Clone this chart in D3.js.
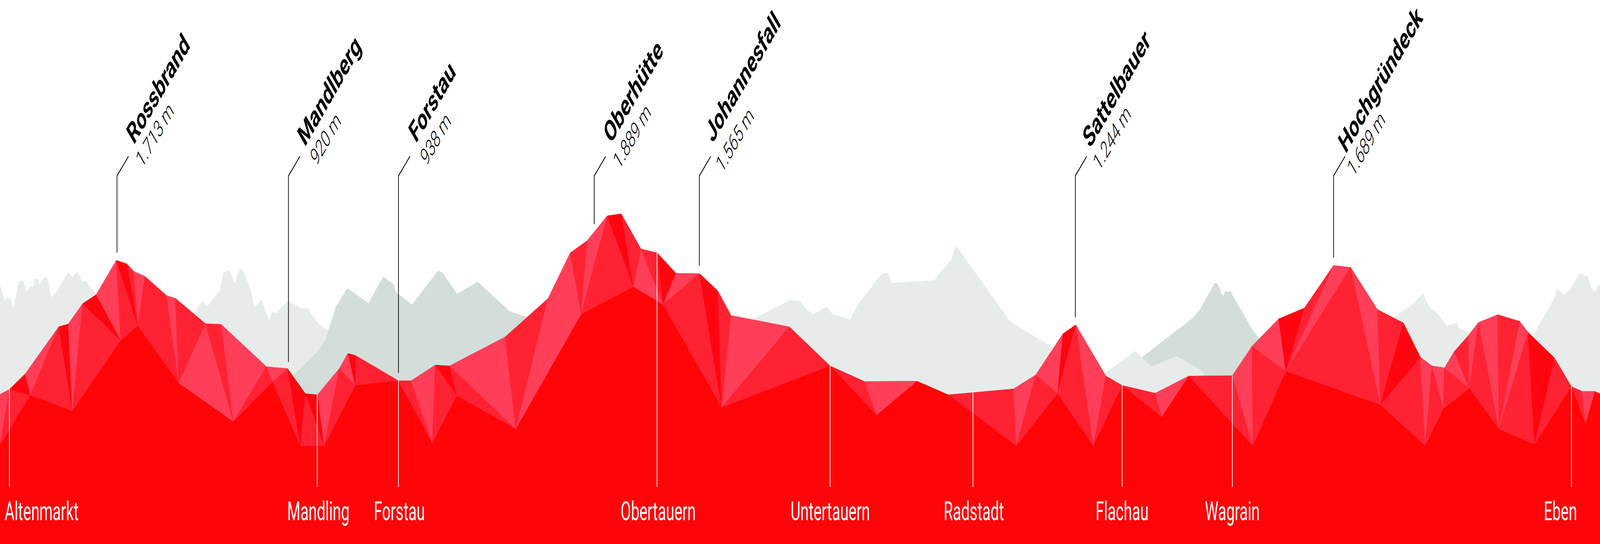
<!DOCTYPE html>
<html lang="de">
<head>
<meta charset="utf-8">
<title>Höhenprofil</title>
<script src="https://cdnjs.cloudflare.com/ajax/libs/d3/7.8.5/d3.min.js"></script>
<style>
html,body{margin:0;padding:0;background:#fff;width:100%;height:100%;overflow:hidden}
#chart,svg{display:block;width:100%;height:100%}
</style>
</head>
<body>
<div id="chart"></div>
<script>
// ---------- DATA (profile units) ----------
const ridgeX = [0,42,111,261,303,367,427,517,564,594,644,740,779,913,983,1184,1278,1357,1411,1508,1546,1582,1770,1827,1934,1998,2245,2435,2534,2609,2699,2761,2849,2921,3004,3109,3190,3249,3508,3689,3842,4076,4216,4504,4603,4724,4781,4915,4987,5134,5283,5477,5564,5682,5797,5927,6003,6122,6237,6313,6364,6420,6462,6525,6571,6656,6754,6791,6909,6984,7031,7088,7111];
const ridgeY = [1009,996,957,836,829,777,754,666,675,694,707,756,763,828,830,938,943,1007,1010,943,904,910,974,974,934,936,862,764,647,616,552,547,637,647,699,700,744,807,836,936,976,975,1010,995,959,854,831,962,986,1006,962,961,886,816,788,679,684,792,826,914,936,941,900,859,825,805,822,850,916,989,1001,1001,1007];
const valleyX = [0,135,321,537,613,794,1037,1211,1335,1441,1579,1921,2030,2292,2583,2815,2947,3207,3896,4517,4700,4859,5163,5568,5715,6135,6334,6415,6530,6662,6820,7047];
const valleyY = [1139,1011,1052,871,834,980,1079,977,1141,1141,986,1134,1012,1098,804,734,779,1043,1062,1141,1007,1141,1067,1141,950,1036,1141,1046,994,1098,1137,1084];
// each facet joins three named corners: r = ridge corner, v = valley corner
const facets = [
"r0 r1 v0","r1 v1 v0","r1 r2 v1","r2 r3 v1","r3 v1 v2","r3 r4 v2","r4 r5 v2","r5 v3 v2","r5 r6 v3","r6 r7 v3",
"r7 v4 v3","r7 r8 v4","r8 r9 v4","r9 r10 v4","r10 r11 v5","r10 v5 v4","r11 r12 v5","r12 r13 v5","r13 v6 v5","r13 r14 v6",
"r14 r15 v6","r15 v7 v6","r15 r16 v7","r16 v8 v7","r16 r17 v8","r17 v9 v8","r17 r18 v9","r18 r19 v9","r19 v10 v9","r19 r20 v10",
"r20 r21 v10","r21 r22 v10","r22 r23 v11","r23 r24 v11","r24 v12 v11","r24 r25 v12","r25 v13 v12","r25 r26 v13","r26 r27 v13","r27 v14 v13",
"r27 r28 v14","r28 r29 v14","r29 r30 v14","r30 v15 v14","r30 r31 v15","r31 r32 v15","r32 v16 v15","r32 r33 v16","r33 r34 v16","r34 r35 v16",
"r35 v17 v16","r35 r36 v17","r36 r37 v17","r37 r38 v17","r38 r39 v17","r39 r40 v18","r40 r41 v18","r42 r43 v19","r43 r44 v19","r44 v20 v19",
"r44 r45 v20","r45 r46 v20","r46 v21 v20","r46 r47 v21","r47 r48 v21","r48 r49 v22","r49 r50 v22","r50 r51 v23","r51 r52 v23","r52 v24 v23",
"r52 r53 v24","r53 r54 v24","r54 r55 v24","r55 r56 v24","r56 v25 v24","r56 r57 v25","r57 r58 v25","r58 r59 v25","r59 v26 v25","r59 r60 v26",
"r60 v27 v26","r60 r61 v27","r61 v28 v27","r61 r62 v28","r62 r63 v28","r63 r64 v28","r64 v29 v28","r64 r65 v29","r65 r66 v29","r66 r67 v29",
"r67 v30 v29","r67 r68 v30","r68 r69 v30","r69 r70 v31","r70 r71 v31"];
// tone of each facet: L light, M medium, D deep
const facetTones = "LMDLMDLMDLMDMLMMLMLMLMLMDMDLMLDMMLMDMLMLLMLMDMLMDLMDMLMMLMLMLDMLMMLMLMLDMLMLMDMLMLMLMLMLMLMDMML";
const backX1 = [0,22,30,48,60,83,104,118,131,148,156,171,174,197,212,227,249,302,324,342,365,382,427,440];
const backY1 = [728,771,763,765,788,720,718,748,733,732,712,716,730,708,713,761,748,697,709,693,719,719,754,800];
const backX2 = [850,899,915,924,976,994,1021,1042,1066,1080,1112,1131,1163,1196,1209,1225,1281,1341,1367,1415,1458,1470];
const backY2 = [815,769,783,782,744,697,690,724,688,691,737,786,767,821,798,801,770,789,789,828,847,900];
const backX3 = [3340,3351,3512,3559,3577,3614,3672,3699,3777,3817,3918,3944,3964,4151,4229,4244,4252,4490,4682,4700];
const backY3 = [830,815,768,771,787,805,785,803,818,776,701,698,724,717,663,634,631,823,890,905];
const backX5 = [6180,6195,6274,6326,6338,6359,6379,6431,6473,6490,6520,6530,6540];
const backY5 = [822,812,781,750,771,790,796,834,826,843,848,857,880];
const backX6 = [6800,6813,6911,6920,6953,6978,7020,7058,7068,7087,7103,7111];
const backY6 = [870,859,759,740,753,741,699,709,733,747,729,729];
const midX1 = [1290,1303,1406,1443,1492,1544,1638,1702,1751,1760,1832,1947,1968,2031,2123,2264,2345,2360];
const midY1 = [975,961,902,873,786,737,776,708,728,748,779,692,698,752,721,796,812,830];
const midX2 = [5060,5076,5300,5332,5398,5411,5427,5436,5444,5469,5566,5595,5610];
const midY2 = [925,914,814,793,724,725,749,758,746,746,843,865,880];
const frontX4 = [4900,5044,5116,5230,5300,5349,5349];
const frontY4 = [960,898,938,912,934,952,962];

const peakNames = ["Rossbrand","Mandlberg","Forstau","Oberhütte","Johannesfall","Sattelbauer","Hochgründeck"];
const peakMetres = [1713,920,938,1889,1565,1244,1689];
const peakX = [520,1282,1771,2641,3108,4779,5927];
const townNames = ["Altenmarkt","Mandling","Forstau","Obertauern","Untertauern","Radstadt","Flachau","Wagrain","Eben"];
const townX = [42,1410,1771,2920,3689,4324,4987,5477,6984];

// ---------- LAYOUT ----------
// The chart is designed on a 7111 x 1392 sheet; the viewBox fits that sheet to whatever window the page gets.
const W = 7111, H = 1392;
const colours = {base:"#fe0508", L:"#ff3f58", M:"#ff2233", D:"#fe0510", back:"#e7ecea", mid:"#d3dedb"};
const townLabelX = [185,1415,1775,2925,3690,4328,4987,5477,6935];
const townSize = 67, townBaseline = 1331, townLineEnd = 1246;
const nameOffX = [24,22,27,23,8,14,3], nameOffY = [-28,-23,-32,-30,-32,-18,-5];
const metreOffX = [60,73,73,60,50,55,37], metreOffY = [32,26,26,36,45,40,55];
const leaderTopY = 400, leaderKnee = 450, leaderRun = 51, leaderGap = 20;

const x = d3.scaleLinear().domain([0,7111]).range([0,W]);
const y = d3.scaleLinear().domain([0,1392]).range([0,H]);
const ridgeAt = d3.scaleLinear().domain(ridgeX).range(ridgeY);
const metreFormat = d3.formatLocale({decimal:",",thousands:".",grouping:[3],currency:["","€"]}).format(",d");

const svg = d3.select("#chart").append("svg")
  .attr("viewBox",`0 0 ${W} ${H}`).attr("preserveAspectRatio","none");

const area = d3.area().x(d=>x(d[0])).y0(y(1392)).y1(d=>y(d[1]));
const zipped = (a,b)=>a.map((v,i)=>[v,b[i]]);

[[backX1,backY1],[backX2,backY2],[backX3,backY3],[backX5,backY5],[backX6,backY6]].forEach(([a,b])=>
  svg.append("path").attr("d",area(zipped(a,b))).attr("fill",colours.back));
[[midX1,midY1],[midX2,midY2]].forEach(([a,b])=>
  svg.append("path").attr("d",area(zipped(a,b))).attr("fill",colours.mid));
svg.append("path").attr("d",area(zipped(frontX4,frontY4))).attr("fill",colours.back);

svg.append("path").attr("d",area(zipped(ridgeX,ridgeY))).attr("fill",colours.base);

const corner = id => {
  const i = +id.slice(1);
  return id[0]==="r" ? [x(ridgeX[i]),y(ridgeY[i])] : [x(valleyX[i]),y(valleyY[i])];
};
const closed = d3.line().curve(d3.curveLinearClosed);
svg.append("g").selectAll("path").data(facets).join("path")
  .attr("d",d=>closed(d.split(" ").map(corner)))
  .attr("fill",(d,i)=>colours[facetTones[i]])
  .attr("stroke",(d,i)=>colours[facetTones[i]])
  .attr("stroke-width",0.5);

// town markers
svg.append("g").selectAll("line").data(townX).join("line")
  .attr("x1",d=>x(d)).attr("x2",d=>x(d))
  .attr("y1",d=>y(ridgeAt(d))).attr("y2",y(townLineEnd))
  .attr("stroke","#fff").attr("stroke-width",3);
svg.append("g").selectAll("text").data(townNames).join("text")
  .text(d=>d)
  .attr("transform",(d,i)=>`translate(${x(townLabelX[i])},${y(townBaseline)})`)
  .attr("text-anchor","middle")
  .attr("font-family","Roboto, sans-serif").attr("font-weight",400)
  .attr("font-size",townSize).attr("fill","#fff");

// peak leaders and labels
const leader = d3.line();
svg.append("g").selectAll("path").data(peakX).join("path")
  .attr("d",d=>leader([[x(d),y(ridgeAt(d)-leaderGap)],[x(d),y(leaderKnee)],[x(d+leaderRun),y(leaderTopY)]]))
  .attr("fill","none").attr("stroke","#000").attr("stroke-width",3);
const labels = svg.append("g").selectAll("g").data(peakNames).join("g");
labels.append("text").text(d=>d)
  .attr("transform",(d,i)=>`translate(${x(peakX[i]+leaderRun+nameOffX[i])},${y(leaderTopY+nameOffY[i])}) rotate(-45) scale(0.98,1)`)
  .attr("font-family","Roboto, sans-serif").attr("font-weight",700)
  .attr("font-size",76).attr("fill","#000");
labels.append("text").text((d,i)=>metreFormat(peakMetres[i])+" m")
  .attr("transform",(d,i)=>`translate(${x(peakX[i]+leaderRun+metreOffX[i])},${y(leaderTopY+metreOffY[i])}) rotate(-45) scale(0.92,1)`)
  .attr("font-family","Roboto, sans-serif").attr("font-weight",300)
  .attr("font-size",62).attr("fill","#000");
</script>
</body>
</html>
